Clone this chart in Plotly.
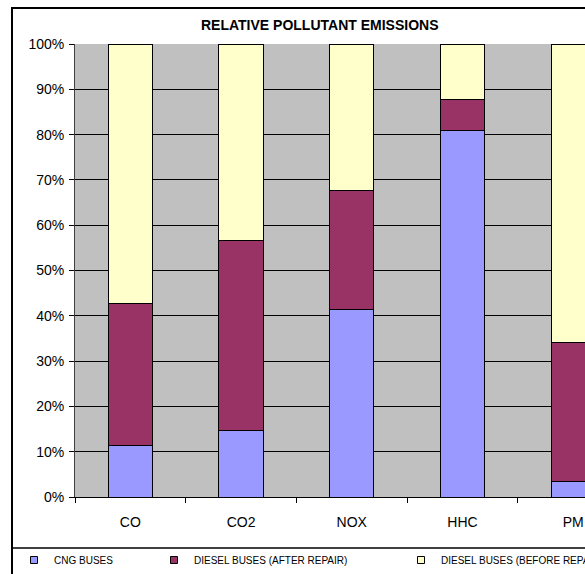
import plotly.graph_objects as go

# Pollutants and the share of each bus group (percent of the stacked total)
pollutants = ["CO", "CO2", "NOX", "HHC", "PM"]
cng_buses = [11.3, 14.7, 41.5, 81.0, 3.5]
diesel_after_repair = [31.4, 42.0, 26.2, 6.8, 30.6]
diesel_before_repair = [57.3, 43.3, 32.3, 12.2, 65.9]

series_names = ["CNG BUSES", "DIESEL BUSES (AFTER REPAIR)", "DIESEL BUSES (BEFORE REPAIR)"]
series_values = [cng_buses, diesel_after_repair, diesel_before_repair]
series_colors = ["#9999FF", "#993366", "#FFFFCC"]
legend_ids = ["legend2", "legend3", "legend4"]

W, H = 585, 574
L, R, T, B = 75, 0, 44, 77
PW, PH = W - L - R, H - T - B


def px_x(x):
    return (x - L) / PW


def px_y(y):
    return (H - B - y) / PH


fig = go.Figure()
for name, vals, color, lg in zip(series_names, series_values, series_colors, legend_ids):
    fig.add_trace(go.Bar(
        x=pollutants, y=vals, name=name, width=0.4,
        marker=dict(color=color, line=dict(color="black", width=1)),
        showlegend=False,
    ))
    # small square key for the legend strip under the chart
    fig.add_trace(go.Scatter(
        x=[None], y=[None], mode="markers", name=name,
        marker=dict(symbol="square", size=7, color=color,
                    line=dict(color="black", width=1)),
        legend=lg, hoverinfo="skip",
    ))

font = "Arial, Liberation Sans, sans-serif"
legend_common = dict(
    orientation="h", xanchor="left", yanchor="middle",
    bgcolor="rgba(0,0,0,0)", borderwidth=0,
    font=dict(family=font, size=10, color="black"),
    itemwidth=30, tracegroupgap=0,
)

fig.update_layout(
    width=W, height=H,
    margin=dict(l=L, r=R, t=T, b=B, autoexpand=False),
    barmode="stack",
    paper_bgcolor="white",
    plot_bgcolor="#C0C0C0",
    font=dict(family=font, color="black"),
    legend2=dict(x=px_x(14), y=px_y(560), **legend_common),
    legend3=dict(x=px_x(154), y=px_y(560), **legend_common),
    legend4=dict(x=px_x(401), y=px_y(560), **legend_common),
    xaxis=dict(
        type="category", range=[-0.5, 4.107],
        tickson="boundaries", ticks="outside", ticklen=5, tickcolor="black",
        ticklabelstandoff=12,
        showgrid=False, showline=True, linecolor="black", linewidth=1,
        tickfont=dict(family=font, size=14, color="black"),
        fixedrange=True,
    ),
    yaxis=dict(
        range=[0, 100], tickvals=list(range(0, 101, 10)),
        ticktext=[f"{v}%" for v in range(0, 101, 10)],
        ticks="outside", ticklen=5, tickcolor="black",
        ticklabelstandoff=2,
        showgrid=True, gridcolor="black", gridwidth=1,
        showline=True, linecolor="#404040", linewidth=1,
        zeroline=False,
        tickfont=dict(family=font, size=14, color="black"),
        fixedrange=True,
    ),
)

# Title
fig.add_annotation(
    text="<b>RELATIVE POLLUTANT EMISSIONS</b>",
    xref="paper", yref="paper", x=px_x(320), y=px_y(25),
    xanchor="center", yanchor="middle", showarrow=False,
    font=dict(family=font, size=14, color="black"),
)

# Chart frame and legend separator
fig.add_shape(type="rect", xref="paper", yref="paper",
              x0=px_x(12), x1=px_x(700), y0=px_y(620), y1=px_y(8),
              line=dict(color="black", width=2), layer="above")
fig.add_shape(type="line", xref="paper", yref="paper",
              x0=px_x(12), x1=px_x(700), y0=px_y(548), y1=px_y(548),
              line=dict(color="black", width=1.5), layer="above")

fig.write_html("out.html")
